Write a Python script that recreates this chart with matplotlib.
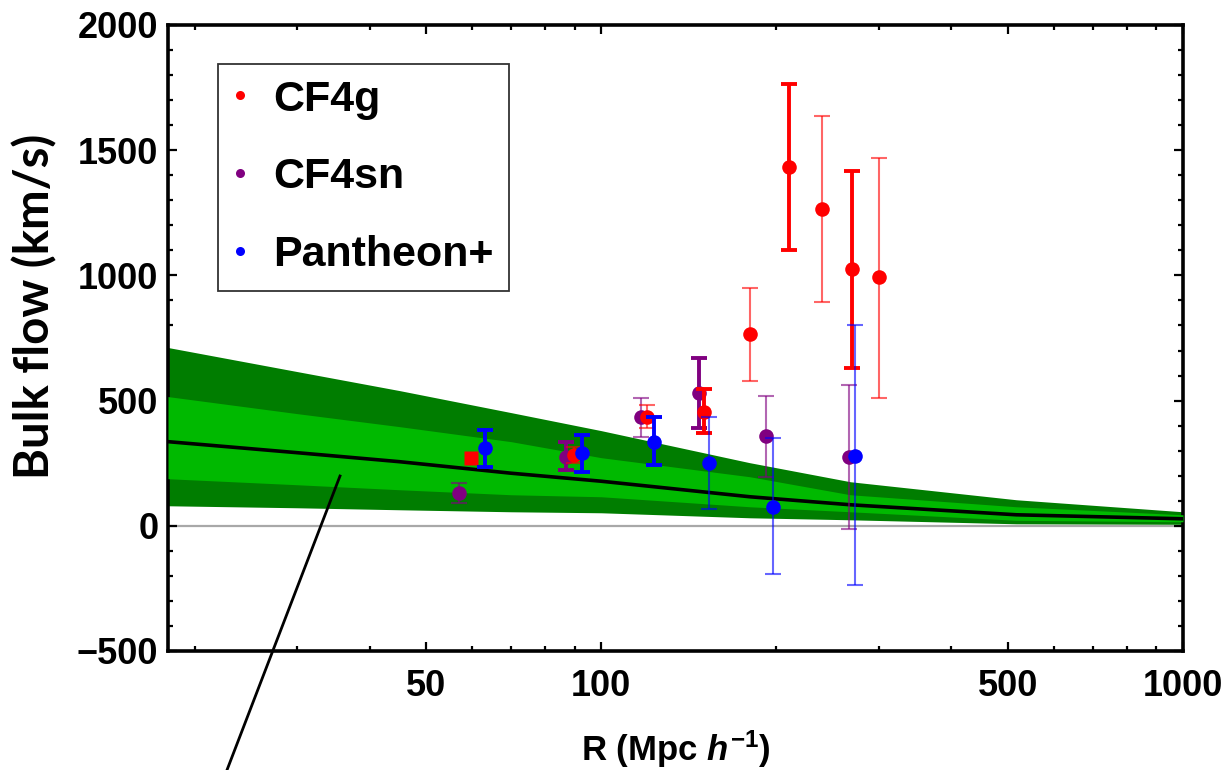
import matplotlib
matplotlib.use("Agg")
import matplotlib.pyplot as plt
from matplotlib.lines import Line2D
from matplotlib.ticker import FixedLocator, NullFormatter, FixedFormatter

plt.rcParams["font.family"] = ["Liberation Sans", "DejaVu Sans"]
plt.rcParams["font.weight"] = "bold"
plt.rcParams["mathtext.fontset"] = "custom"
plt.rcParams["mathtext.rm"] = "Liberation Sans:bold"
plt.rcParams["mathtext.it"] = "Liberation Sans:italic:bold"
plt.rcParams["mathtext.bf"] = "Liberation Sans:bold"

# Model expectation for the bulk flow: median curve with 1-sigma and 2-sigma ranges
band_r = [18, 30, 45, 70, 100, 180, 268, 517, 1000]
band_hi2 = [712, 616, 540, 452, 380, 252, 176, 104, 56]
band_hi1 = [516, 448, 396, 336, 272, 196, 124, 76, 44]
band_mid = [336, 292, 256, 210, 178, 116, 84, 44, 28]
band_lo1 = [188, 164, 144, 124, 116, 76, 56, 22, 16]
band_lo2 = [80, 72, 64, 56, 52, 32, 24, 8, 6]

# CF4 galaxies
cf4g_r = [89.6, 120, 150, 180, 210, 240, 270, 300]
cf4g_v = [284, 436, 456, 764, 1432, 1264, 1024, 992]
cf4g_hi = [316, 484, 548, 948, 1764, 1636, 1416, 1468]
cf4g_lo = [252, 392, 372, 580, 1100, 892, 632, 512]
cf4g_bold = [False, False, True, False, True, False, True, False]
# CF4g value shown without error bar
cf4g_sq_r = [59.8]
cf4g_sq_v = [272]

# CF4 supernovae
cf4sn_r = [57.0, 87.1, 117.2, 147.3, 192.1, 266.7]
cf4sn_v = [132, 276, 436, 532, 360, 276]
cf4sn_hi = [172, 336, 512, 672, 520, 564]
cf4sn_lo = [92, 224, 356, 392, 196, -12]
cf4sn_bold = [False, True, False, True, False, False]

# Pantheon+
pan_r = [63.0, 92.8, 123.3, 153.3, 197.5, 273.0]
pan_v = [312, 292, 336, 252, 76, 280]
pan_hi = [384, 364, 436, 436, 352, 800]
pan_lo = [236, 216, 244, 68, -192, -236]
pan_bold = [True, True, True, False, False, False]

x_major = [50, 100, 500, 1000]
x_minor = [20, 30, 40, 60, 70, 80, 90, 200, 300, 400, 600, 700, 800, 900]
y_major = [-500, 0, 500, 1000, 1500, 2000]

fig = plt.figure(figsize=(12.27, 7.70), dpi=100)
ax = fig.add_axes([168 / 1227, 1 - 651 / 770, (1183 - 168) / 1227, (651 - 25) / 770])

dark_green = "#007d00"
light_green = "#00b900"

ax.axhline(0, color="#a8a8a8", lw=1.6, zorder=1)
ax.fill_between(band_r, band_lo2, band_hi2, color=dark_green, lw=0, zorder=2)
ax.fill_between(band_r, band_lo1, band_hi1, color=light_green, lw=0, zorder=3)
ax.plot(band_r, band_mid, color="black", lw=2.6, zorder=4)


def draw_series(r, v, hi, lo, bold, color, z):
    for ri, vi, h, l, b in zip(r, v, hi, lo, bold):
        ax.errorbar([ri], [vi], yerr=[[vi - l], [h - vi]], fmt="none",
                    ecolor=color, elinewidth=2.8 if b else 1.5,
                    capsize=5.5, capthick=2.8 if b else 1.5,
                    alpha=1.0 if b else 0.6, zorder=z)
    ax.plot(r, v, "o", color=color, ms=10.5, mec="none", zorder=z + 0.5)


draw_series(cf4sn_r, cf4sn_v, cf4sn_hi, cf4sn_lo, cf4sn_bold, "#800080", 5)
draw_series(cf4g_r, cf4g_v, cf4g_hi, cf4g_lo, cf4g_bold, "#ff0000", 6)
ax.plot(cf4g_sq_r, cf4g_sq_v, "s", color="#ff0000", ms=9.5, mec="none", zorder=6.5)
draw_series(pan_r, pan_v, pan_hi, pan_lo, pan_bold, "#0000ff", 7)

ax.set_xscale("log")
ax.set_xlim(18, 1000)
ax.set_ylim(-500, 2000)

ax.xaxis.set_major_locator(FixedLocator(x_major))
ax.xaxis.set_major_formatter(FixedFormatter([str(v) for v in x_major]))
ax.xaxis.set_minor_locator(FixedLocator(x_minor))
ax.xaxis.set_minor_formatter(NullFormatter())
ax.yaxis.set_major_locator(FixedLocator(y_major))
ax.yaxis.set_minor_locator(FixedLocator(list(range(-400, 2000, 100))))

ax.tick_params(which="both", direction="in", top=True, right=True, width=1.6,
               labelsize=26)
ax.tick_params(which="major", length=6.5)
ax.tick_params(which="minor", length=3.5)
ax.tick_params(axis="x", which="major", pad=13)
ax.tick_params(axis="y", which="major", pad=7)
for lab in ax.get_xticklabels() + ax.get_yticklabels():
    lab.set_fontweight("bold")
for s in ax.spines.values():
    s.set_linewidth(2.6)

ax.set_xlabel(r"R (Mpc $h^{-1}$)", fontsize=25, fontweight="bold")
ax.xaxis.set_label_coords(0.5, -0.124)
fig.text(35 / 1227, 1 - 306 / 770, "Bulk flow (km/s)", rotation=90,
         ha="center", va="center", fontsize=34, fontweight="bold",
         family=["Lato", "DejaVu Sans"])

handles = [
    Line2D([], [], ls="none", marker="o", ms=6.5, color="#ff0000", mec="none"),
    Line2D([], [], ls="none", marker="o", ms=6.5, color="#800080", mec="none"),
    Line2D([], [], ls="none", marker="o", ms=6.5, color="#0000ff", mec="none"),
]
leg = ax.legend(handles, ["CF4g", "CF4sn", "Pantheon+"],
                loc="upper left", bbox_to_anchor=((218 - 168) / 1015, (651 - 64) / 626),
                borderaxespad=0, prop={"size": 31, "weight": "bold"},
                frameon=True, fancybox=False, framealpha=1, edgecolor="#333333",
                borderpad=0.36, labelspacing=0.88, handlelength=0.3,
                handletextpad=0.62)
leg.get_frame().set_linewidth(1.3)
leg.set_zorder(10)

# pointer line running from the median curve down past the axis
fig.add_artist(Line2D([340 / 1227, 227 / 1227], [1 - 476 / 770, 1 - 770 / 770],
                      transform=fig.transFigure, color="black", lw=2.0))

fig.savefig("out.png", dpi=100)
